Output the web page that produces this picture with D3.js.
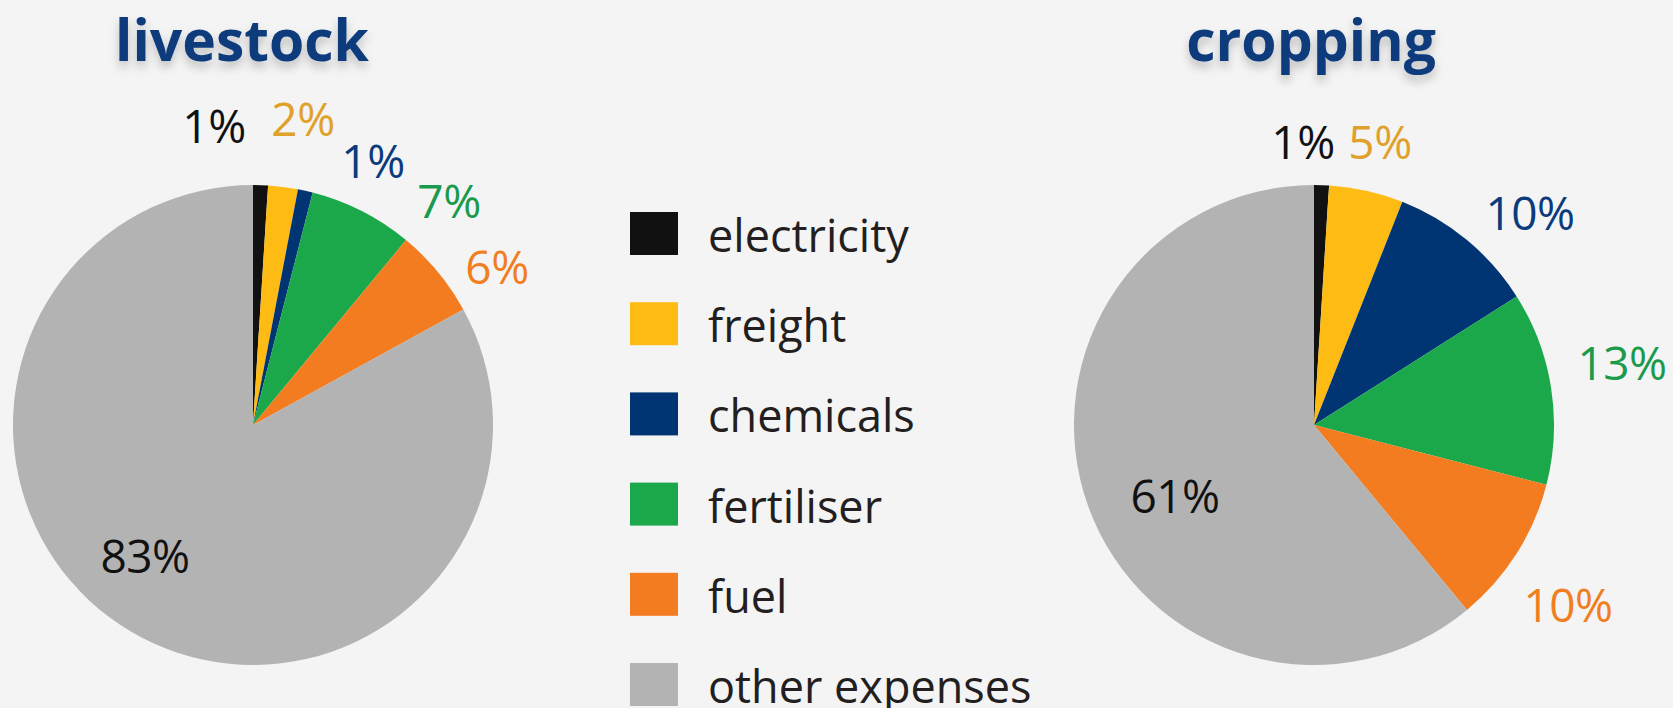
<!DOCTYPE html>
<html>
<head>
<meta charset="utf-8">
<script src="https://cdn.jsdelivr.net/npm/d3@7"></script>
<style>
  html, body { margin: 0; padding: 0; background: #f4f4f4; }
  svg { display: block; }
</style>
</head>
<body>
<svg id="chart"></svg>
<script>
const categories = ["electricity", "freight", "chemicals", "fertiliser", "fuel", "other expenses"];
const livestockValues = [1, 2, 1, 7, 6, 83];
const croppingValues = [1, 5, 10, 13, 10, 61];
const pieTitles = ["livestock", "cropping"];

const sliceColors = ["#111111", "#fdbb13", "#003473", "#1ba84a", "#f47c20", "#b3b3b3"];
const labelColors = ["#111111", "#e0a12a", "#0b3b7c", "#1a9a4c", "#f07f22", "#111111"];

// hand placed label spots (dx, baseline dy from the pie centre), as in the original artwork
const livestockLabelPos = [[-39, -282], [50, -289], [120, -247], [196, -207], [244, -141], [-108, 148]];
const croppingLabelPos = [[-11, -266], [66, -266], [216, -195], [308, -45], [254, 197], [-139, 88]];

const width = 1673, height = 708;
const radius = 240;

const svg = d3.select("#chart")
    .attr("width", width)
    .attr("height", height);

svg.append("rect").attr("width", width).attr("height", height).attr("fill", "#f4f4f4");

// soft shadow under the titles
const defs = svg.append("defs");
defs.append("filter")
    .attr("id", "shadow")
    .attr("x", "-20%").attr("y", "-50%").attr("width", "140%").attr("height", "200%")
    .append("feDropShadow")
    .attr("dx", 0).attr("dy", 6)
    .attr("stdDeviation", 5)
    .attr("flood-color", "#000")
    .attr("flood-opacity", 0.22);

const pie = d3.pie().sort(null).value(d => d);
const arc = d3.arc().innerRadius(0).outerRadius(radius);

function drawPie(values, labelPos, cx, cy, title, titleX) {
    const g = svg.append("g").attr("transform", `translate(${cx},${cy})`);

    g.selectAll("path")
        .data(pie(values))
        .enter().append("path")
        .attr("d", arc)
        .attr("fill", (d, i) => sliceColors[i]);

    g.selectAll("text.pct")
        .data(values)
        .enter().append("text")
        .attr("class", "pct")
        .attr("x", (d, i) => labelPos[i][0])
        .attr("y", (d, i) => labelPos[i][1])
        .attr("text-anchor", "middle")
        .attr("font-family", "'Open Sans', sans-serif")
        .attr("font-size", 46)
        .attr("letter-spacing", -0.5)
        .attr("fill", (d, i) => labelColors[i])
        .text(d => d + "%");

    svg.append("text")
        .attr("x", titleX)
        .attr("y", 61)
        .attr("text-anchor", "middle")
        .attr("font-family", "'Open Sans', sans-serif")
        .attr("font-weight", 700)
        .attr("font-size", 57)
        .attr("fill", "#0b3b7c")
        .attr("filter", "url(#shadow)")
        .text(title);
}

drawPie(livestockValues, livestockLabelPos, 253, 425, pieTitles[0], 242);
drawPie(croppingValues, croppingLabelPos, 1314, 425, pieTitles[1], 1311);

// Legend
const legend = svg.append("g").attr("transform", "translate(630,212)");
const rows = legend.selectAll("g")
    .data(categories)
    .enter().append("g")
    .attr("transform", (d, i) => `translate(0,${i * 90.2})`);

rows.append("rect")
    .attr("width", 48)
    .attr("height", 43)
    .attr("fill", (d, i) => sliceColors[i]);

rows.append("text")
    .attr("x", 78)
    .attr("y", 40)
    .attr("font-family", "'Open Sans', sans-serif")
    .attr("font-size", 45)
    .attr("fill", "#231f20")
    .text(d => d);
</script>
</body>
</html>
